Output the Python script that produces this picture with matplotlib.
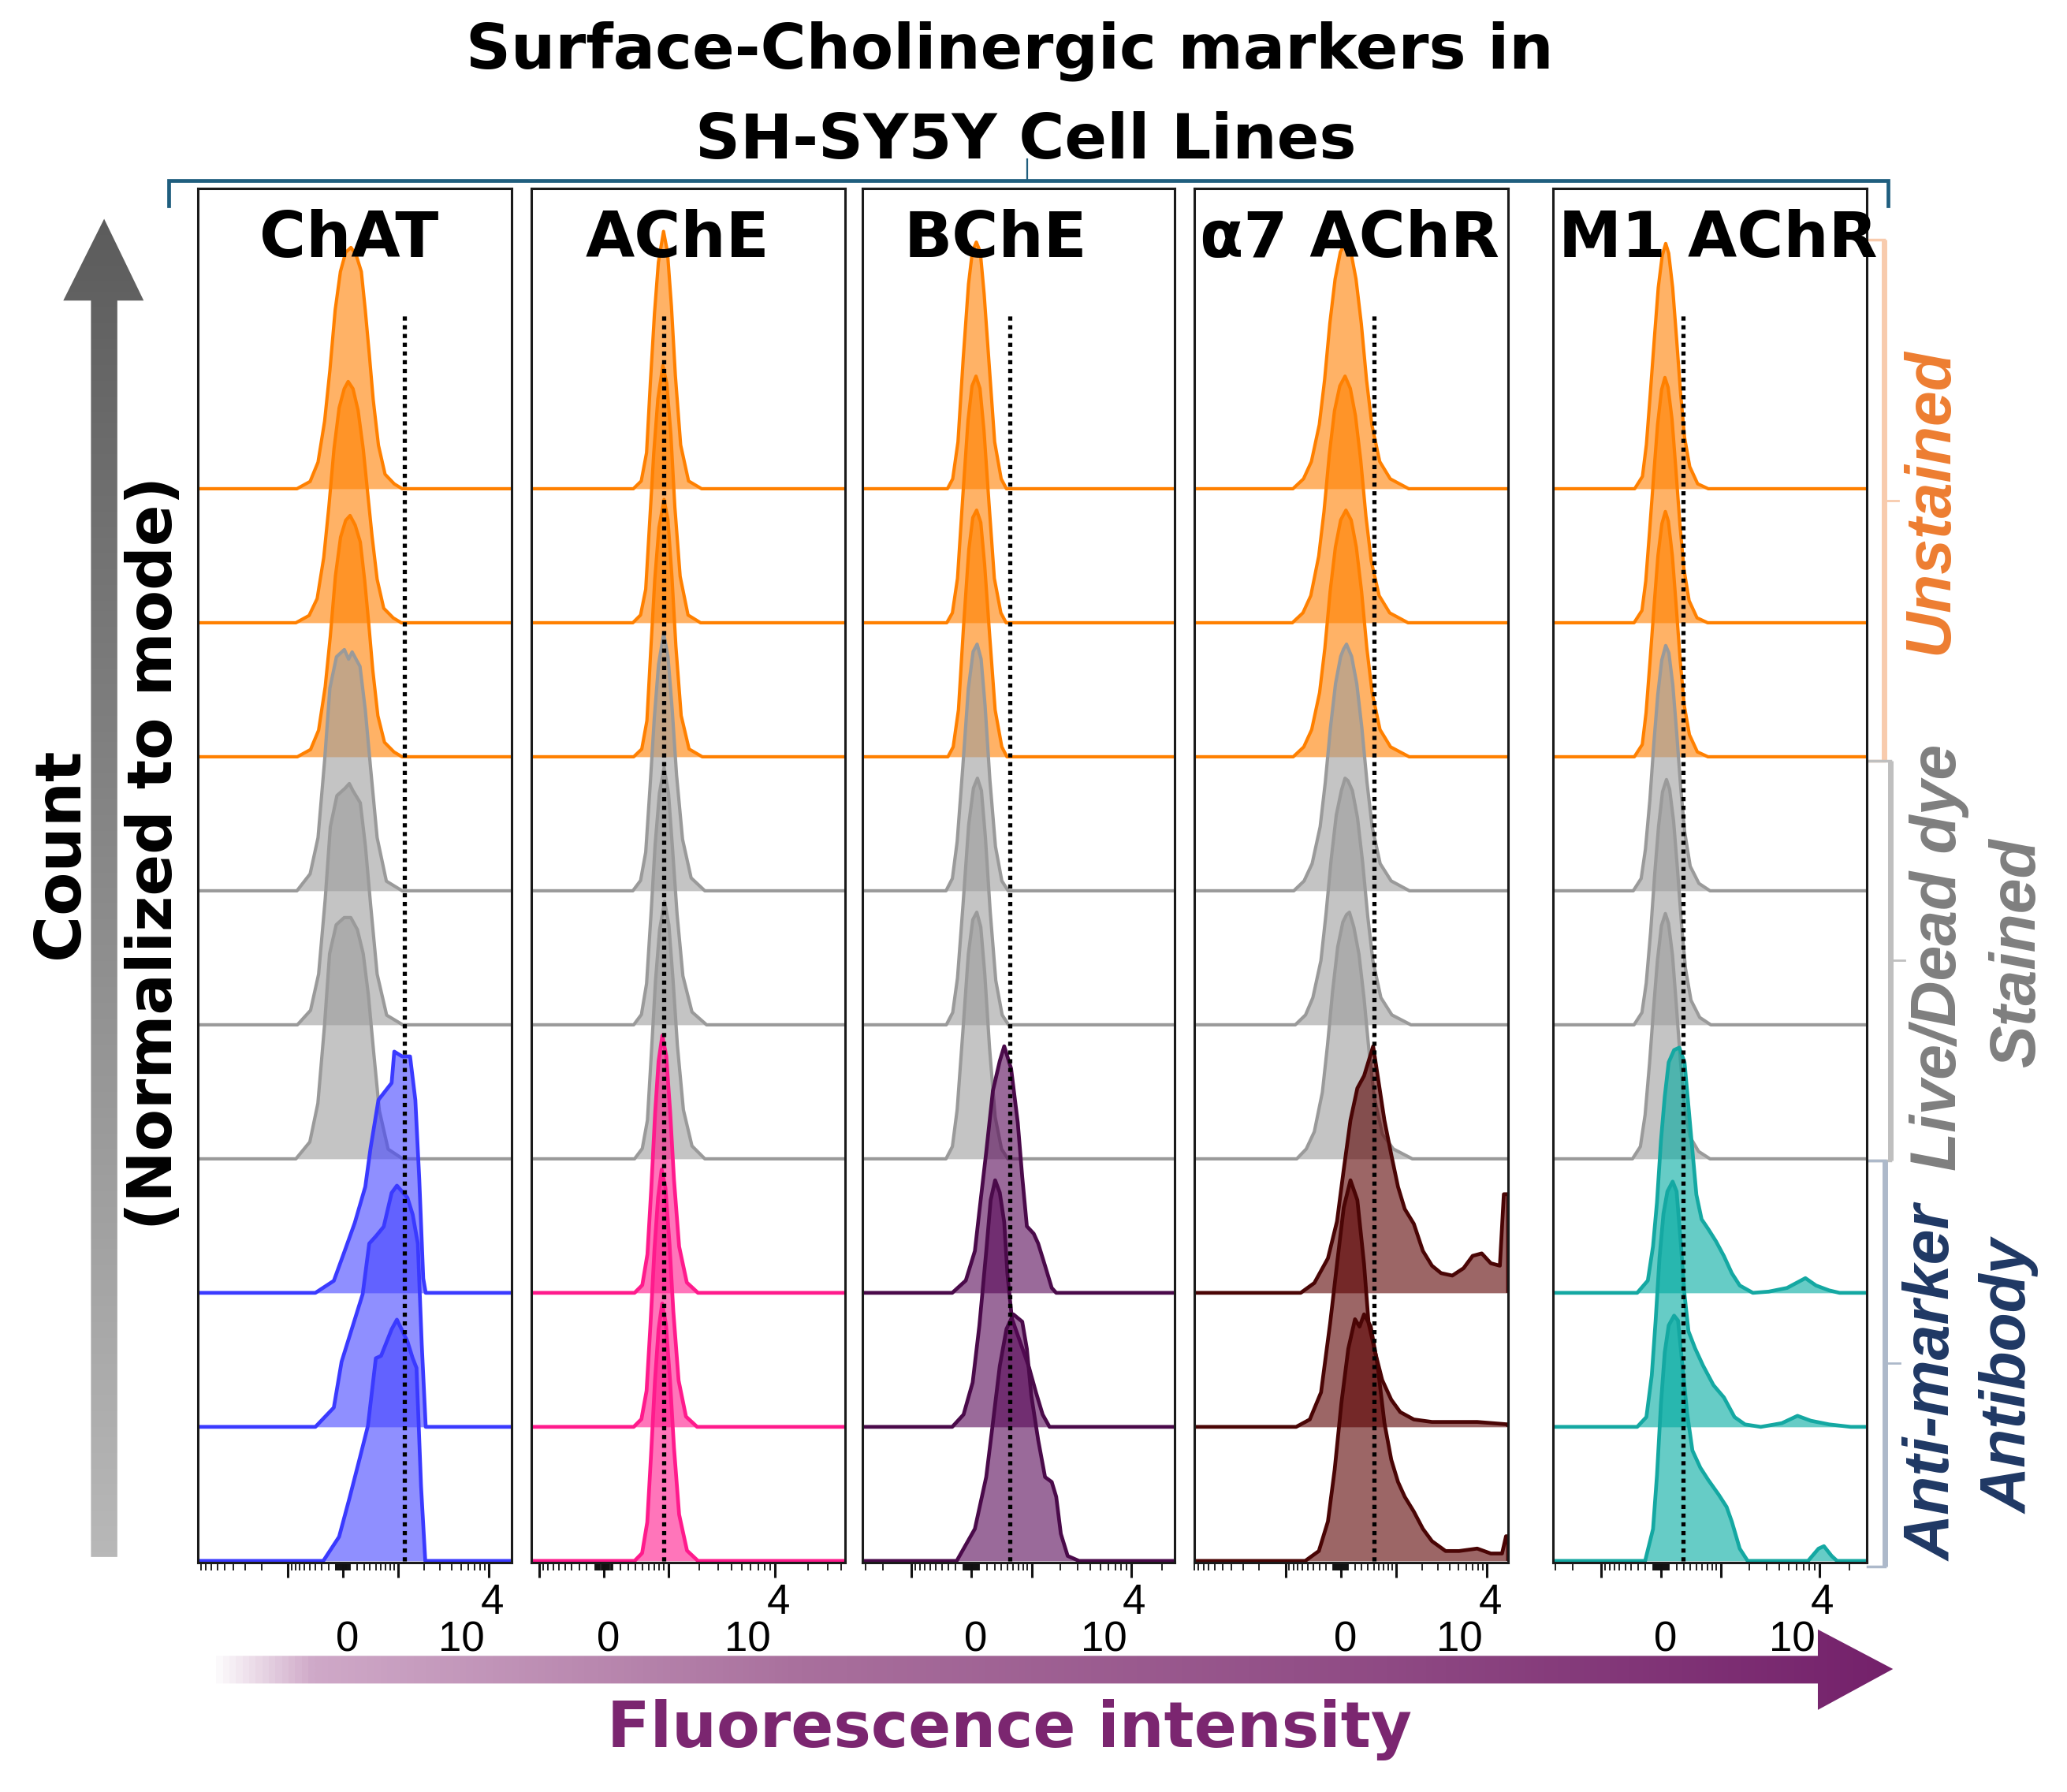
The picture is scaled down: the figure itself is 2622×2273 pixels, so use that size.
import numpy as np
import matplotlib
matplotlib.use('Agg')
import matplotlib.pyplot as plt
from matplotlib.patches import Polygon
from matplotlib.colors import LinearSegmentedColormap

# ---------------- data (x: biexponential display units, 0 -> 0, 1 -> 10^4 ; y: % of mode) -------------
markers = ['ChAT', 'AChE', 'BChE', 'α7 AChR', 'M1 AChR']
gate = [0.42, 0.352, 0.239, 0.228, 0.141]          # dotted reference line per marker

chat_unstained = [
    ([-0.313, -0.223, -0.169, -0.124, -0.088, -0.052, -0.016, 0.020, 0.056, 0.091, 0.127, 0.154, 0.181, 0.208, 0.244, 0.289, 0.352, 0.406],
     [0, 3, 11, 28, 49, 74, 90, 98, 100, 97, 90, 74, 56, 37, 18, 6, 2, 0]),
    ([-0.320, -0.230, -0.175, -0.130, -0.095, -0.060, -0.025, 0.010, 0.037, 0.070, 0.105, 0.140, 0.170, 0.200, 0.235, 0.280, 0.345, 0.400],
     [0, 3, 10, 27, 48, 72, 89, 97, 100, 97, 88, 72, 54, 36, 18, 6, 2, 0]),
    ([-0.310, -0.220, -0.165, -0.120, -0.085, -0.050, -0.015, 0.020, 0.050, 0.085, 0.120, 0.150, 0.178, 0.205, 0.240, 0.285, 0.350, 0.405],
     [0, 3, 11, 29, 50, 75, 91, 98, 100, 96, 89, 73, 55, 36, 17, 6, 2, 0]),
]
chat_live = [
    ([-0.313, -0.223, -0.169, -0.124, -0.088, -0.043, 0.011, 0.040, 0.064, 0.118, 0.154, 0.190, 0.235, 0.298, 0.406],
     [0, 7, 22, 54, 84, 97, 100, 96, 99, 93, 75, 51, 22, 4, 0]),
    ([-0.310, -0.220, -0.165, -0.120, -0.085, -0.040, 0.015, 0.045, 0.070, 0.120, 0.155, 0.190, 0.235, 0.300, 0.410],
     [0, 6, 21, 52, 82, 95, 98, 100, 97, 92, 74, 50, 21, 4, 0]),
    ([-0.320, -0.225, -0.170, -0.125, -0.090, -0.045, 0.010, 0.055, 0.100, 0.140, 0.175, 0.210, 0.250, 0.310, 0.410],
     [0, 7, 23, 55, 85, 97, 100, 100, 95, 85, 68, 45, 20, 4, 0]),
]
chat_antibody = [
    ([-0.187, -0.061, 0.011, 0.082, 0.154, 0.190, 0.244, 0.334, 0.352, 0.406, 0.460, 0.496, 0.523, 0.550, 0.567],
     [0, 5, 17, 29, 44, 60, 80, 87, 100, 98, 98, 80, 47, 6, 0]),
    ([-0.187, -0.061, -0.008, 0.064, 0.136, 0.181, 0.226, 0.280, 0.334, 0.370, 0.442, 0.478, 0.513, 0.540, 0.567],
     [0, 8, 27, 41, 55, 76, 79, 83, 97, 100, 95, 88, 76, 34, 0]),
    ([-0.133, -0.025, 0.046, 0.118, 0.172, 0.226, 0.262, 0.334, 0.370, 0.442, 0.478, 0.504, 0.535, 0.564],
     [0, 10, 26, 43, 56, 84, 85, 96, 100, 91, 84, 80, 31, 0]),
]

ache_unstained = [
    ([0.173, 0.219, 0.250, 0.272, 0.296, 0.319, 0.349, 0.372, 0.395, 0.418, 0.449, 0.495, 0.571],
     [0, 3, 14, 41, 68, 88, 100, 92, 71, 44, 17, 3, 0]),
    ([0.170, 0.215, 0.245, 0.268, 0.292, 0.316, 0.345, 0.368, 0.392, 0.415, 0.446, 0.492, 0.565],
     [0, 3, 13, 39, 66, 87, 100, 93, 73, 45, 18, 3, 0]),
    ([0.175, 0.222, 0.252, 0.275, 0.298, 0.322, 0.352, 0.375, 0.398, 0.421, 0.452, 0.498, 0.575],
     [0, 3, 14, 42, 69, 89, 100, 92, 70, 43, 16, 3, 0]),
]
ache_live = [
    ([0.170, 0.215, 0.245, 0.270, 0.295, 0.320, 0.350, 0.375, 0.400, 0.425, 0.460, 0.510, 0.590],
     [0, 4, 15, 40, 67, 88, 100, 91, 70, 45, 20, 5, 0]),
    ([0.175, 0.220, 0.250, 0.275, 0.300, 0.325, 0.352, 0.378, 0.402, 0.428, 0.462, 0.515, 0.600],
     [0, 4, 16, 42, 70, 90, 100, 90, 68, 43, 19, 5, 0]),
    ([0.180, 0.225, 0.255, 0.278, 0.302, 0.326, 0.355, 0.380, 0.405, 0.430, 0.465, 0.515, 0.590],
     [0, 4, 15, 41, 69, 89, 100, 91, 69, 44, 19, 5, 0]),
]
ache_antibody = [
    ([0.180, 0.225, 0.255, 0.277, 0.300, 0.320, 0.342, 0.365, 0.388, 0.410, 0.440, 0.485, 0.550],
     [0, 3, 15, 40, 70, 90, 100, 92, 70, 44, 18, 4, 0]),
    ([0.175, 0.220, 0.250, 0.273, 0.296, 0.317, 0.338, 0.360, 0.384, 0.406, 0.437, 0.480, 0.545],
     [0, 3, 14, 40, 69, 89, 100, 93, 71, 45, 18, 4, 0]),
    ([0.180, 0.224, 0.254, 0.276, 0.299, 0.320, 0.341, 0.363, 0.387, 0.410, 0.440, 0.486, 0.550],
     [0, 3, 15, 41, 70, 90, 100, 92, 70, 44, 18, 4, 0]),
]

bche_unstained = [
    ([-0.151, -0.118, -0.085, -0.052, -0.019, 0.005, 0.030, 0.055, 0.079, 0.112, 0.145, 0.186, 0.219],
     [0, 4, 19, 53, 83, 96, 100, 96, 79, 49, 19, 4, 0]),
    ([-0.155, -0.120, -0.088, -0.055, -0.022, 0.003, 0.028, 0.053, 0.078, 0.110, 0.143, 0.184, 0.217],
     [0, 4, 18, 51, 82, 96, 100, 95, 78, 48, 18, 4, 0]),
    ([-0.148, -0.115, -0.082, -0.050, -0.017, 0.008, 0.032, 0.058, 0.082, 0.115, 0.148, 0.190, 0.222],
     [0, 4, 19, 53, 84, 97, 100, 95, 78, 48, 19, 4, 0]),
]
bche_live = [
    ([-0.160, -0.120, -0.090, -0.055, -0.020, 0.010, 0.035, 0.060, 0.085, 0.115, 0.150, 0.190, 0.230],
     [0, 5, 20, 50, 82, 97, 100, 94, 75, 45, 18, 4, 0]),
    ([-0.158, -0.118, -0.088, -0.053, -0.018, 0.012, 0.037, 0.062, 0.087, 0.117, 0.152, 0.192, 0.232],
     [0, 5, 19, 49, 81, 96, 100, 95, 76, 46, 18, 4, 0]),
    ([-0.160, -0.120, -0.090, -0.055, -0.020, 0.008, 0.033, 0.058, 0.083, 0.113, 0.148, 0.188, 0.228],
     [0, 5, 20, 51, 83, 97, 100, 94, 75, 45, 17, 4, 0]),
]
bche_antibody = [
    ([-0.121, -0.036, 0.021, 0.049, 0.092, 0.134, 0.177, 0.205, 0.248, 0.290, 0.318, 0.347, 0.390, 0.418, 0.461, 0.503, 0.531],
     [0, 5, 17, 33, 57, 82, 94, 100, 91, 69, 47, 27, 24, 20, 11, 2, 0]),
    ([-0.121, -0.050, 0.007, 0.049, 0.092, 0.120, 0.148, 0.177, 0.205, 0.225, 0.253, 0.318, 0.361, 0.404, 0.446, 0.489],
     [0, 5, 18, 41, 71, 92, 100, 95, 83, 62, 44, 32, 24, 14, 5, 0]),
    ([-0.093, 0.021, 0.092, 0.134, 0.177, 0.219, 0.262, 0.318, 0.347, 0.375, 0.418, 0.461, 0.503, 0.531, 0.560, 0.603, 0.674],
     [0, 13, 34, 56, 79, 94, 100, 97, 86, 67, 49, 34, 32, 26, 11, 2, 0]),
]

a7_unstained = [
    ([-0.326, -0.254, -0.200, -0.146, -0.110, -0.074, -0.038, -0.002, 0.034, 0.070, 0.105, 0.141, 0.177, 0.213, 0.267, 0.339, 0.465],
     [0, 4, 11, 26, 44, 67, 85, 96, 100, 96, 85, 67, 44, 26, 11, 4, 0]),
    ([-0.330, -0.258, -0.204, -0.150, -0.114, -0.078, -0.042, -0.006, 0.030, 0.066, 0.101, 0.137, 0.173, 0.209, 0.263, 0.335, 0.460],
     [0, 4, 11, 27, 45, 68, 86, 96, 100, 95, 84, 66, 43, 25, 11, 4, 0]),
    ([-0.324, -0.252, -0.198, -0.144, -0.108, -0.072, -0.036, 0.000, 0.036, 0.072, 0.107, 0.143, 0.179, 0.215, 0.269, 0.341, 0.468],
     [0, 4, 11, 26, 44, 67, 85, 96, 100, 96, 85, 67, 44, 26, 11, 4, 0]),
]
a7_live = [
    ([-0.320, -0.250, -0.195, -0.140, -0.105, -0.070, -0.035, 0.000, 0.020, 0.040, 0.075, 0.110, 0.145, 0.180, 0.215, 0.270, 0.345, 0.470],
     [0, 4, 11, 26, 44, 66, 84, 95, 98, 100, 95, 84, 66, 44, 26, 11, 4, 0]),
    ([-0.310, -0.240, -0.190, -0.135, -0.100, -0.065, -0.030, 0.005, 0.030, 0.050, 0.080, 0.115, 0.150, 0.185, 0.220, 0.275, 0.350, 0.480],
     [0, 4, 11, 26, 45, 67, 85, 95, 100, 99, 95, 84, 66, 44, 26, 11, 4, 0]),
    ([-0.300, -0.235, -0.180, -0.125, -0.090, -0.055, -0.020, 0.015, 0.040, 0.060, 0.090, 0.125, 0.160, 0.195, 0.230, 0.285, 0.360, 0.490],
     [0, 4, 11, 27, 46, 68, 86, 96, 99, 100, 94, 83, 65, 43, 25, 10, 4, 0]),
]
a7_antibody = [
    ([-0.273, -0.180, -0.087, -0.025, 0.021, 0.067, 0.114, 0.160, 0.191, 0.222, 0.253, 0.299, 0.346, 0.392, 0.438, 0.500, 0.562, 0.624, 0.686, 0.763, 0.840, 0.902, 0.964, 1.026, 1.088, 1.115, 1.144],
     [0, 4, 14, 29, 50, 70, 83, 88, 94, 100, 88, 70, 56, 43, 34, 28, 17, 11, 8, 7, 10, 15, 16, 12, 11, 40, 40]),
    ([-0.304, -0.211, -0.134, -0.072, -0.025, 0.021, 0.067, 0.114, 0.160, 0.191, 0.237, 0.284, 0.346, 0.407, 0.500, 0.624, 0.933, 1.144],
     [0, 3, 14, 42, 66, 89, 100, 92, 66, 42, 30, 19, 11, 6, 3, 2, 2, 1]),
    ([-0.242, -0.149, -0.087, -0.041, 0.005, 0.052, 0.098, 0.129, 0.160, 0.206, 0.253, 0.299, 0.346, 0.392, 0.438, 0.500, 0.562, 0.624, 0.717, 0.809, 0.933, 1.026, 1.103, 1.130, 1.144],
     [0, 4, 16, 37, 64, 86, 98, 95, 100, 95, 79, 56, 41, 32, 26, 20, 13, 8, 4, 4, 5, 3, 3, 10, 10]),
]

m1_unstained = [
    ([-0.166, -0.117, -0.092, -0.067, -0.042, -0.017, 0.008, 0.030, 0.049, 0.074, 0.099, 0.124, 0.149, 0.182, 0.232, 0.299],
     [0, 5, 18, 39, 61, 82, 95, 100, 96, 82, 61, 39, 21, 9, 2, 0]),
    ([-0.170, -0.120, -0.096, -0.071, -0.046, -0.021, 0.004, 0.025, 0.045, 0.070, 0.095, 0.120, 0.145, 0.178, 0.228, 0.295],
     [0, 5, 17, 38, 60, 81, 95, 100, 96, 83, 62, 40, 22, 9, 2, 0]),
    ([-0.168, -0.118, -0.094, -0.069, -0.044, -0.019, 0.006, 0.028, 0.047, 0.072, 0.097, 0.122, 0.147, 0.180, 0.230, 0.297],
     [0, 5, 18, 39, 61, 82, 95, 100, 96, 82, 61, 39, 21, 9, 2, 0]),
]
m1_live = [
    ([-0.175, -0.125, -0.098, -0.070, -0.045, -0.020, 0.005, 0.030, 0.050, 0.075, 0.100, 0.125, 0.150, 0.185, 0.240, 0.310],
     [0, 5, 17, 37, 60, 80, 94, 100, 97, 84, 64, 42, 24, 10, 3, 0]),
    ([-0.170, -0.120, -0.093, -0.065, -0.040, -0.015, 0.010, 0.035, 0.055, 0.080, 0.105, 0.130, 0.155, 0.190, 0.245, 0.315],
     [0, 5, 17, 38, 61, 81, 95, 100, 96, 83, 63, 41, 23, 10, 3, 0]),
    ([-0.180, -0.130, -0.100, -0.072, -0.047, -0.022, 0.003, 0.028, 0.048, 0.073, 0.098, 0.123, 0.148, 0.183, 0.238, 0.310],
     [0, 5, 18, 39, 61, 81, 95, 100, 96, 83, 62, 40, 22, 9, 3, 0]),
]
m1_antibody = [
    ([-0.150, -0.083, -0.050, -0.025, 0.000, 0.024, 0.049, 0.083, 0.116, 0.149, 0.174, 0.199, 0.224, 0.257, 0.299, 0.348, 0.398, 0.448, 0.498, 0.581, 0.681, 0.797, 0.913, 0.980, 1.063, 1.129],
     [0, 5, 19, 37, 62, 80, 94, 99, 100, 94, 76, 58, 40, 30, 26, 21, 15, 8, 3, 0, 0.5, 2, 6, 3, 1, 0]),
    ([-0.150, -0.092, -0.058, -0.034, -0.009, 0.016, 0.041, 0.074, 0.099, 0.124, 0.149, 0.174, 0.216, 0.266, 0.332, 0.398, 0.465, 0.531, 0.631, 0.764, 0.863, 0.947, 1.063, 1.200],
     [0, 4, 21, 43, 69, 87, 96, 100, 96, 76, 54, 39, 32, 25, 17, 12, 4, 1, 0, 1.5, 4.5, 2.5, 1, 0]),
    ([-0.100, -0.050, -0.025, 0.000, 0.024, 0.049, 0.083, 0.108, 0.132, 0.166, 0.199, 0.249, 0.299, 0.365, 0.415, 0.448, 0.498, 0.548, 0.930, 0.996, 1.030, 1.079, 1.113],
     [0, 13, 35, 64, 85, 96, 100, 98, 82, 60, 45, 38, 33, 27, 22, 16, 5, 0, 0, 5, 6, 2, 0]),
]

panel_groups = [
    (chat_unstained, chat_live, chat_antibody),
    (ache_unstained, ache_live, ache_antibody),
    (bche_unstained, bche_live, bche_antibody),
    (a7_unstained, a7_live, a7_antibody),
    (m1_unstained, m1_live, m1_antibody),
]

# ---------------- style / layout -------------
W, HP, DPI = 2622, 2273, 100
S = W / 1568.0                     # layout measured on a 1568-wide preview
PH = HP / S
fig = plt.figure(figsize=(W / DPI, HP / DPI), dpi=DPI)

unst_col = ('#FF8000', '#FF8000')
live_col = ('#9A9A9A', '#9D9D9D')
ab_cols = [('#3A3AFF', '#4444FF'), ('#FF1A8C', '#FF1A8C'), ('#4A0A4A', '#570757'),
           ('#4A0505', '#5A0000'), ('#14A8A2', '#00AAA0')]
panel_px = [(150, 388), (403, 641), (654, 891), (906, 1144), (1178, 1416)]
panel_xlim = [(-0.991, 1.153), (-0.423, 1.408), (-0.686, 1.273), (-1.0, 1.144), (-0.683, 1.30)]
panel_peak = [1.80, 1.92, 1.84, 1.84, 1.83]
header_x = [0.483, 0.466, 0.428, 0.494, 0.527]
TOP, BOT = 143, 1185

A_BIEX = 1.8e-3
def biex(v):
    return np.arcsinh(np.asarray(v, float) * A_BIEX) / np.arcsinh(1e4 * A_BIEX)

major_vals = [-1e3, 0, 1e3, 1e4]
minor_vals = [s * m * 10 ** k for k in (1, 2, 3, 4) for m in range(1, 10) for s in (-1, 1)]

# overlay axes in preview pixel coordinates
ov = fig.add_axes([0, 0, 1, 1], zorder=0)
ov.set_xlim(0, 1568)
ov.set_ylim(PH, 0)
ov.axis('off')

def grad_poly(verts, extent, stops, vertical):
    poly = Polygon(verts, closed=True, facecolor='none', edgecolor='none')
    ov.add_patch(poly)
    cmap = LinearSegmentedColormap.from_list('g', stops)
    g = np.linspace(0, 1, 512)
    g = g.reshape(-1, 1) if vertical else g.reshape(1, -1)
    im = ov.imshow(g, cmap=cmap, extent=extent, aspect='auto', origin='upper',
                   interpolation='bilinear', zorder=1)
    im.set_clip_path(poly)

# vertical count arrow
grad_poly([(79, 166), (109, 228), (89, 228), (89, 1181), (69, 1181), (69, 228), (48, 228)],
          (45, 112, 1182, 165), [(0, '#5C5C5C'), (1, '#B8B8B8')], True)
# horizontal fluorescence arrow
grad_poly([(158, 1256), (1379, 1256), (1379, 1236), (1436, 1266), (1379, 1297), (1379, 1277), (158, 1277)],
          (158, 1437, 1298, 1235),
          [(0, '#FFFFFF'), (0.06, '#CFA9C8'), (0.35, '#A9709D'), (0.7, '#8F4A84'), (1, '#74216B')], False)

ov.set_xlim(0, 1568)
ov.set_ylim(PH, 0)

# top bracket
bc = '#1F5E7E'
ov.plot([128, 128, 1432, 1432], [156, 137, 137, 156], color=bc, lw=3.4, solid_joinstyle='miter', zorder=2)
ov.plot([779, 779], [137, 121], color=bc, lw=1.6, zorder=2)

# right brackets
def rbracket(x, y0, y1, col, tick_len=11):
    ov.plot([1417, x], [y0, y0], color=col, lw=2.5, zorder=2)
    ov.plot([1417, x], [y1, y1], color=col, lw=2.5, zorder=2)
    ov.plot([x, x], [y0, y1], color=col, lw=5, zorder=2, solid_capstyle='butt')
    ov.plot([x, x + tick_len], [(y0 + y1) / 2] * 2, color=col, lw=2, zorder=2)
rbracket(1429, 182, 577, '#F8CBAD')
rbracket(1434, 577, 880, '#BFBFBF')
rbracket(1430, 880, 1188, '#ADB9CA')

# texts
bold = dict(family='DejaVu Sans', weight='bold')
ov.text(766, 52, 'Surface-Cholinergic markers in', ha='center', va='baseline', fontsize=57, **bold)
ov.text(778, 120, 'SH-SY5Y Cell Lines', ha='center', va='baseline', fontsize=57, **bold)
ov.text(46, 647, 'Count', rotation=90, ha='center', va='center', fontsize=58, **bold)
ov.text(117, 647, '(Normalized to mode)', rotation=90, ha='center', va='center', fontsize=56, **bold)
ov.text(766, 1325, 'Fluorescence intensity', ha='center', va='baseline', fontsize=57.5,
        color='#7B2670', **bold)

side = dict(family='Liberation Sans', weight='bold', style='italic', rotation=90,
            ha='center', va='center', fontsize=58)
ov.text(1465, 380, 'Unstained', color='#ED7D31', **side)
ov.text(1471, 726, 'Live/Dead dye', color='#7F7F7F', **side)
ov.text(1531, 723, 'Stained', color='#7F7F7F', **side)
ov.text(1467, 1049, 'Anti-marker', color='#1F3864', **side)
ov.text(1525, 1044, 'Antibody', color='#1F3864', **side)

# ---------------- panels -------------
for p in range(5):
    l, r = panel_px[p]
    ax = fig.add_axes([l * S / W, 1 - BOT * S / HP, (r - l) * S / W, (BOT - TOP) * S / HP], zorder=2)
    xlim = panel_xlim[p]
    ax.set_xlim(*xlim)
    ax.set_ylim(-0.01, 10.24)
    Hk = panel_peak[p]
    unst, live, ab = panel_groups[p]
    curves = list(unst) + list(live) + list(ab)
    cols = [unst_col] * 3 + [live_col] * 3 + [ab_cols[p]] * 3
    for k, ((xs, ys), (lc, fc)) in enumerate(zip(curves, cols)):
        base = 8 - k
        x = np.asarray(xs, float)
        y = base + np.asarray(ys, float) * Hk / 100.0
        ax.fill_between(x, base, y, color=fc, alpha=0.6, lw=0, zorder=1 + 0.1 * k)
        xl = np.concatenate([[xlim[0]], x, [xlim[1]]])
        yl = np.concatenate([[base], y, [base]])
        lw = 3.0 if k < 6 else 3.4
        ax.plot(xl, yl, color=lc, lw=lw, solid_joinstyle='round', solid_capstyle='butt',
                zorder=1.05 + 0.1 * k)
    ax.plot([gate[p], gate[p]], [0, 9.31], color='black', lw=3.8, linestyle=(0, (1, 1.1)),
            dash_capstyle='butt', zorder=5)
    ax.text(header_x[p], 0.950, markers[p], transform=ax.transAxes, ha='center', va='baseline',
            fontsize=58, zorder=20, clip_on=False, **bold)
    for s in ax.spines.values():
        s.set_linewidth(2.2)
        s.set_color('#1A1A1A')
        s.set_zorder(10)
    ax.set_yticks([])
    maj = [biex(v) for v in major_vals if xlim[0] <= biex(v) <= xlim[1]]
    mnr = [biex(v) for v in minor_vals if xlim[0] <= biex(v) <= xlim[1]]
    ax.set_xticks(maj)
    ax.set_xticks(mnr, minor=True)
    ax.set_xticklabels([])
    ax.tick_params(axis='x', which='major', length=14, width=2.2, direction='out', color='#111111')
    ax.tick_params(axis='x', which='minor', length=7, width=1.3, direction='out', color='#111111')
    lab = dict(family='Liberation Sans', fontsize=38, ha='center', va='baseline',
               xycoords=('data', 'axes fraction'), textcoords='offset points', annotation_clip=False)
    ax.annotate('0', xy=(0, 0), xytext=(4, -81), **lab)
    ax.annotate('10', xy=(1, 0), xytext=(-25, -81), **lab)
    ax.annotate('4', xy=(1, 0), xytext=(3, -47), **lab)

fig.savefig('out.png', dpi=DPI)
